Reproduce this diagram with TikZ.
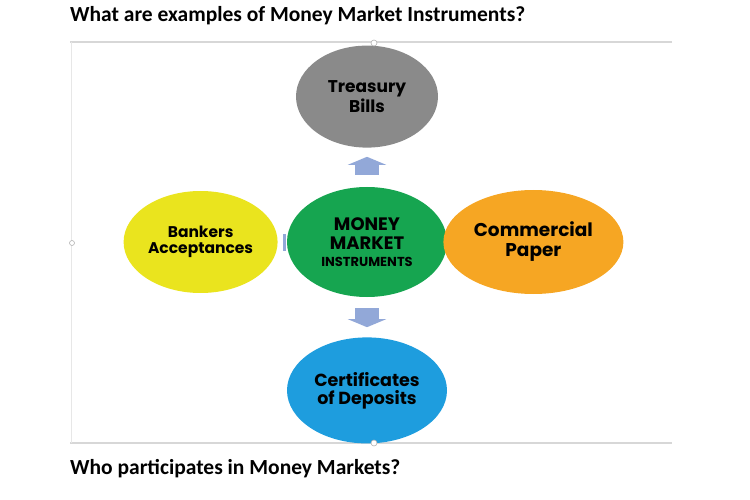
\documentclass[tikz,border=0pt]{standalone}
\usepackage{fontspec}
\setmainfont{Carlito}
\newfontfamily\gothfont{Poppins}
\usetikzlibrary{arrows.meta,positioning,shapes.geometric,backgrounds}

\definecolor{tbgray}{RGB}{138,138,138}
\definecolor{mmgreen}{RGB}{22,165,80}
\definecolor{bayellow}{RGB}{234,228,30}
\definecolor{cporange}{RGB}{246,166,35}
\definecolor{cdblue}{RGB}{30,157,222}
\definecolor{arrowblue}{RGB}{146,168,216}
\definecolor{framegray}{RGB}{215,215,215}

\begin{document}
\begin{tikzpicture}[
  x=1pt, y=-1pt,
  instr/.style={ellipse, inner sep=0pt, align=center},
  heading/.style={anchor=base west, inner sep=0pt, font=\fontsize{21.5}{24}\selectfont\bfseries},
  blockarrow/.style={draw=arrowblue, line width=24pt, -{Triangle[length=8pt,width=38pt]}},
  handle/.style={draw=gray!60, fill=white, line width=0.6pt}
]
\useasboundingbox (0,0) rectangle (750,500);

% headings
\node[heading] (q1) at (70,22) {What are examples of Money Market Instruments?};
\node[heading] (q2) at (70,474) {Who participates in Money Markets?};

% centre and the four instruments
\node[instr, fill=mmgreen, minimum width=160pt, minimum height=110pt,
  font=\gothfont\bfseries\fontsize{18}{20}\selectfont] (mmi) at (367,242)
  {MONEY\\[-1pt] MARKET\\[-3pt] {\fontsize{13}{15}\selectfont INSTRUMENTS}};
\node[instr, fill=tbgray, minimum width=142pt, minimum height=102pt, above=39pt of mmi,
  font=\gothfont\bfseries\fontsize{17}{18}\selectfont] (tb) {Treasury\\ Bills};
\node[instr, fill=cdblue, minimum width=160pt, minimum height=106pt, below=40pt of mmi,
  font=\gothfont\bfseries\fontsize{17.5}{18}\selectfont] (cd) {Certificates\\ of Deposits};
\node[instr, fill=bayellow, minimum width=154pt, minimum height=102pt, left=9pt of mmi,
  font=\gothfont\bfseries\fontsize{15.5}{16}\selectfont] (ba) {Bankers\\ Acceptances};
\node[instr, fill=cporange, minimum width=180pt, minimum height=104pt, right=-4pt of mmi,
  font=\gothfont\bfseries\fontsize{18.5}{20}\selectfont] (cp) {Commercial\\ Paper};

\draw[blockarrow, shorten <=12pt, shorten >=9pt] (mmi) -- (tb);
\draw[blockarrow, shorten <=11pt, shorten >=10pt] (mmi) -- (cd);
\draw[arrowblue, line width=17pt, shorten <=1pt, shorten >=5pt] (mmi) -- (ba);

\begin{pgfonlayer}{background}
  % frame of the slide
  \draw[framegray, line width=2pt] (672,42) -- (70,42);
  \draw[framegray, line width=2pt] (70,443) -- (672,443);
  \draw[framegray!60, line width=1pt] (71,42) -- (71,443);
\end{pgfonlayer}

\draw[handle] (374,43) circle (3);
\draw[handle] (374,443) circle (3);
\draw[handle] (72,243) circle (2.5);
\end{tikzpicture}
\end{document}
